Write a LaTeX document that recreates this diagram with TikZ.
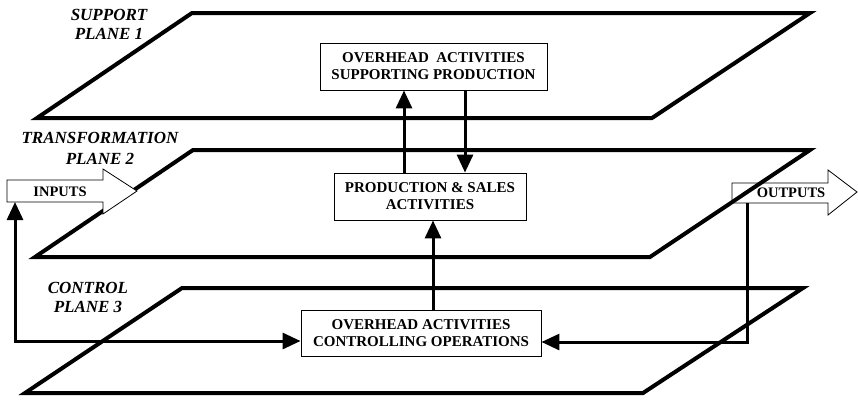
\documentclass[tikz,border=0pt]{standalone}
\usepackage{fontspec}
\setmainfont{Liberation Serif}
\usetikzlibrary{arrows.meta,calc}

\tikzset{
  plane/.style={line width=4pt, line join=miter},
  activity/.style={draw, line width=0.9pt, fill=white, align=center,
    font=\bfseries\fontsize{15}{17}\selectfont, inner sep=0pt},
  planelabel/.style={align=center, font=\bfseries\itshape\fontsize{17}{19}\selectfont},
  flowlabel/.style={font=\bfseries\fontsize{14.5}{16}\selectfont, inner sep=0pt},
  bigarrow/.style={draw, line width=0.8pt, fill=white, line join=miter},
  flow/.style={line width=3pt, -{Triangle[length=18pt,width=16pt]}},
  flowboth/.style={line width=3pt, {Triangle[length=18pt,width=16pt]}-{Triangle[length=18pt,width=16pt]}},
}

\begin{document}
\begin{tikzpicture}[x=1pt, y=-1pt]
\useasboundingbox (0,0) rectangle (858,399);

% the outputs arrow lies under the transformation plane
\draw[bigarrow] (732,183) -- (828,183) -- (828,170) -- (857,192) -- (828,215) -- (828,203) -- (732,203) -- cycle;
\node[flowlabel] (outputs) at (791,193) {OUTPUTS};

% three stacked planes
\draw[plane] (37,118) -- (652,118) -- (810,13) -- (192,13) -- cycle;
\draw[plane] (35,257) -- (650,257) -- (810,150) -- (193,150) -- cycle;
\draw[plane] (25,393) -- (643,393) -- (803,288) -- (182,288) -- cycle;

% the inputs arrow sits on top of the transformation plane edge
\draw[bigarrow] (7,180) -- (103,180) -- (103,169) -- (137,191) -- (103,214) -- (103,202) -- (7,202) -- cycle;
\node[flowlabel] (inputs) at (60,192) {INPUTS};

% plane labels
\node[planelabel] (lab1) at (109,24) {SUPPORT\\PLANE 1};
\node[planelabel] (lab2) at (100,148) {TRANSFORMATION\\[2pt]PLANE 2};
\node[planelabel] (lab3) at (88,297) {CONTROL\\PLANE 3};

% activity boxes
\node[activity, minimum width=227pt, minimum height=47pt] (support) at (433.5,66.5)
  {OVERHEAD\ \ ACTIVITIES\\SUPPORTING PRODUCTION};
\node[activity, minimum width=192pt, minimum height=47pt] (prod) at (430,196.5)
  {PRODUCTION \& SALES\\ACTIVITIES};
\node[activity, minimum width=240pt, minimum height=46pt] (control) at (421,333)
  {OVERHEAD ACTIVITIES\\CONTROLLING OPERATIONS};

% flows between the planes
\draw[flow] ($(prod.north)+(-26,0)$) -- ($(support.south)+(-29.5,0)$);
\draw[flow] ($(support.south)+(31.5,0)$) -- ($(prod.north)+(35,0)$);
\draw[flow] ($(control.north)+(12,0)$) -- ($(prod.south)+(3,0)$);

% feedback loops from inputs and outputs
\coordinate (inbot) at (15,202);
\coordinate (lc) at (15,341);
\draw[flowboth, line join=miter] (control.west |- lc) -- (lc) -- (inbot);

\coordinate (outbot) at (747,203);
\coordinate (rc) at (747,342);
\draw[flow, line join=miter] (outbot) -- (rc) -- (control.east |- rc);
\end{tikzpicture}
\end{document}
